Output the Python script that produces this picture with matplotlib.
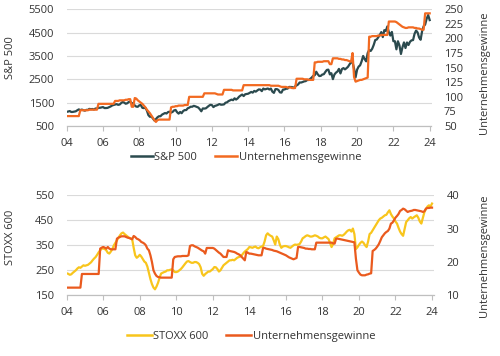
import numpy as np
import matplotlib
matplotlib.use("Agg")
import matplotlib.pyplot as plt
from matplotlib.lines import Line2D

plt.rcParams['font.family'] = ['Open Sans', 'DejaVu Sans']
plt.rcParams['font.size'] = 8

# ---------------- data (monthly, axis years 2004..2024) ----------------
year_ticks = [2004, 2006, 2008, 2010, 2012, 2014, 2016, 2018, 2020, 2022, 2024]
year_labels = ['04', '06', '08', '10', '12', '14', '16', '18', '20', '22', '24']

sp500 = [1107,
    1121, 1141, 1102, 1104, 1115, 1130, 1174, 1212, 1181, 1204, 1181, 1157,
    1192, 1191, 1234, 1220, 1229, 1207, 1249, 1248, 1280, 1281, 1295, 1311,
    1270, 1270, 1277, 1304, 1336, 1378, 1401, 1418, 1438, 1407, 1421, 1482,
    1531, 1503, 1455, 1474, 1527, 1549, 1481, 1468, 1379, 1331, 1323, 1386,
    1400, 1280, 1267, 1283, 1165, 969, 896, 903, 826, 735, 798, 873,
    919, 919, 987, 1021, 1057, 1036, 1096, 1115, 1074, 1104, 1169, 1187,
    1089, 1031, 1102, 1049, 1141, 1183, 1181, 1258, 1286, 1327, 1326, 1364,
    1345, 1321, 1292, 1219, 1131, 1253, 1247, 1258, 1312, 1366, 1408, 1398,
    1310, 1362, 1379, 1407, 1441, 1412, 1416, 1426, 1498, 1515, 1569, 1598,
    1631, 1606, 1686, 1633, 1682, 1757, 1806, 1848, 1783, 1859, 1872, 1884,
    1924, 1960, 1931, 2003, 1972, 2018, 2068, 2059, 1995, 2105, 2068, 2086,
    2107, 2063, 2104, 1972, 1920, 2079, 2080, 2044, 1940, 1932, 2060, 2065,
    2097, 2099, 2174, 2171, 2168, 2126, 2199, 2239, 2279, 2364, 2363, 2384,
    2412, 2423, 2470, 2472, 2519, 2575, 2648, 2674, 2824, 2714, 2641, 2648,
    2705, 2718, 2816, 2902, 2914, 2712, 2760, 2507, 2704, 2784, 2834, 2946,
    2752, 2942, 2980, 2926, 2977, 3038, 3141, 3231, 3226, 2954, 2585, 2912,
    3044, 3100, 3271, 3500, 3363, 3270, 3622, 3756, 3714, 3811, 3973, 4181,
    4204, 4298, 4395, 4523, 4308, 4605, 4567, 4766, 4516, 4374, 4530, 4132,
    4132, 3785, 4130, 3955, 3586, 3872, 4080, 3840, 4077, 3970, 4109, 4169,
    4180, 4450, 4589, 4508, 4288, 4194, 4568, 4770, 4846, 5096, 5254, 5036]

us_earnings = [
    67, 67, 67, 67, 67, 67, 67, 67, 67, 77, 77, 77,
    77, 77, 77, 78, 78, 78, 78, 78, 78, 88, 88, 88,
    88, 88, 88, 88, 88, 88, 88, 88, 93, 93, 93, 94,
    94, 94, 94, 95, 95, 96, 96, 83, 83, 98, 97, 94,
    92, 90, 88, 85, 82, 78, 75, 72, 68, 64, 60, 57,
    60, 61, 61, 61, 61, 61, 61, 61, 61, 82, 83, 83,
    84, 84, 85, 85, 85, 85, 86, 86, 86, 100, 100, 100,
    100, 100, 100, 100, 100, 100, 100, 106, 106, 106, 106, 106,
    106, 106, 106, 105, 104, 104, 104, 104, 112, 112, 112, 112,
    112, 112, 111, 111, 111, 111, 111, 111, 111, 120, 120, 120,
    120, 120, 120, 120, 120, 120, 120, 120, 120, 120, 120, 120,
    120, 120, 120, 119, 119, 119, 119, 119, 119, 118, 117, 117,
    117, 117, 116, 116, 116, 115, 115, 115, 131, 131, 131, 131,
    131, 130, 130, 130, 129, 129, 129, 129, 159, 159, 160, 160,
    160, 160, 161, 161, 161, 161, 156, 156, 166, 166, 166, 166,
    165, 165, 164, 164, 163, 163, 162, 161, 160, 175, 134, 126,
    127, 128, 129, 129, 130, 131, 132, 133, 203, 203, 204, 204,
    204, 204, 205, 205, 206, 206, 206, 206, 206, 229, 229, 229,
    229, 229, 228, 226, 224, 222, 220, 219, 218, 218, 219, 219,
    219, 219, 218, 218, 217, 217, 216, 215, 215, 243, 243, 243,
    243]

stoxx600 = [
    238, 236, 232, 234, 240, 245, 250, 257, 262, 260, 265, 270,
    268, 270, 272, 277, 282, 290, 297, 303, 312, 322, 330, 337,
    337, 335, 330, 320, 317, 325, 335, 350, 360, 370, 380, 390,
    398, 401, 395, 390, 385, 380, 378, 375, 340, 310, 300, 305,
    312, 305, 295, 285, 280, 265, 240, 215, 195, 181, 174, 185,
    200, 220, 237, 240, 243, 245, 250, 250, 252, 254, 250, 243,
    243, 245, 250, 255, 262, 270, 278, 285, 287, 283, 280, 280,
    283, 283, 280, 275, 262, 236, 228, 235, 240, 245, 245, 250,
    255, 263, 262, 255, 245, 250, 260, 270, 275, 280, 285, 290,
    290, 292, 290, 295, 300, 303, 305, 310, 318, 325, 330, 335,
    343, 342, 340, 343, 345, 340, 338, 342, 345, 347, 365, 390,
    398, 392, 388, 385, 370, 353, 385, 375, 353, 340, 345, 347,
    347, 345, 342, 340, 345, 350, 353, 352, 353, 355, 365, 378,
    382, 387, 390, 388, 385, 385, 387, 390, 388, 385, 380, 378,
    378, 382, 385, 380, 375, 360, 343, 355, 378, 382, 386, 390,
    390, 388, 392, 398, 405, 410, 412, 405, 417, 395, 335, 342,
    352, 360, 365, 360, 350, 343, 365, 395, 400, 410, 420, 430,
    440, 450, 457, 460, 465, 470, 472, 482, 490, 475, 465, 457,
    445, 437, 420, 405, 395, 388, 415, 443, 450, 458, 463, 457,
    462, 466, 470, 460, 445, 437, 460, 483, 495, 505, 510, 505,
    517]

eu_earnings = [
    12.3, 12.3, 12.3, 12.3, 12.3, 12.3, 12.3, 12.3, 12.3, 12.3, 16.4, 16.4,
    16.4, 16.4, 16.4, 16.4, 16.4, 16.4, 16.4, 16.4, 16.4, 16.4, 24.0, 24.3,
    24.5, 24.3, 24.0, 24.5, 24.0, 23.8, 23.8, 23.8, 23.8, 27.0, 27.3, 27.5,
    27.7, 27.7, 27.7, 27.5, 27.3, 27.2, 27.0, 26.8, 27.8, 27.5, 27.0, 26.8,
    26.5, 26.0, 25.8, 25.5, 25.0, 24.0, 23.5, 22.0, 20.0, 17.5, 16.5, 15.8,
    15.5, 15.4, 15.3, 15.3, 15.3, 15.3, 15.3, 15.3, 15.3, 15.3, 20.8, 21.5,
    21.6, 21.7, 21.7, 21.7, 21.8, 21.8, 21.8, 21.8, 22.0, 24.8, 25.0, 25.0,
    24.7, 24.5, 24.3, 24.0, 23.7, 23.4, 23.2, 22.5, 24.2, 24.2, 24.2, 24.2,
    24.2, 24.0, 23.6, 23.2, 22.8, 22.5, 22.0, 21.5, 21.5, 21.5, 23.5, 23.3,
    23.2, 23.1, 23.0, 22.8, 22.5, 22.3, 22.0, 21.5, 21.0, 20.5, 23.0, 22.8,
    22.5, 22.5, 22.4, 22.3, 22.2, 22.1, 22.0, 22.0, 22.0, 24.2, 24.2, 24.0,
    23.9, 23.8, 23.7, 23.6, 23.4, 23.3, 23.2, 23.0, 22.8, 22.6, 22.4, 22.2,
    22.0, 21.7, 21.4, 21.2, 21.0, 20.8, 21.0, 21.2, 24.5, 24.5, 24.4, 24.3,
    24.2, 24.0, 24.0, 23.9, 23.9, 23.8, 23.8, 23.8, 25.8, 25.8, 25.8, 25.8,
    25.8, 25.8, 25.8, 25.8, 25.8, 25.8, 25.8, 25.6, 25.5, 27.0, 27.0, 26.9,
    26.8, 26.7, 26.6, 26.5, 26.4, 26.3, 26.2, 26.1, 26.0, 25.9, 21.0, 17.5,
    16.8, 16.2, 16.0, 16.0, 16.0, 16.2, 16.3, 16.5, 16.6, 23.3, 23.6, 24.0,
    24.6, 25.3, 26.3, 27.4, 28.0, 28.6, 29.0, 29.3, 30.0, 31.5, 31.8, 32.5,
    33.3, 33.8, 34.4, 35.3, 35.6, 36.0, 35.8, 35.4, 35.0, 35.2, 35.3, 35.4,
    35.6, 35.6, 35.5, 35.4, 35.3, 35.2, 35.0, 35.2, 36.0, 36.2, 36.2, 36.3,
    36.3]

# ---------------- style ----------------
C_SP = '#2B4A4E'
C_USE = '#F26A21'
C_STX = '#F8C51C'
C_EUE = '#EA5A1E'
GRID = '#DADADA'
TXT = '#333333'

x_us = 2004 + np.arange(len(sp500)) / 12.0
x_eu = 2004 + np.arange(len(stoxx600)) / 12.0

fig = plt.figure(figsize=(5.0, 3.56), dpi=100)


def style(ax, axr):
    for a in (ax, axr):
        for s in ('top', 'left', 'right'):
            a.spines[s].set_visible(False)
        a.spines['bottom'].set_color('#BFBFBF')
        a.spines['bottom'].set_linewidth(0.8)
        a.tick_params(axis='y', length=0, colors=TXT, labelsize=8, pad=9)
    ax.tick_params(axis='x', length=3.5, width=0.8, color='#BFBFBF',
                   labelcolor=TXT, labelsize=8, pad=5)
    ax.grid(axis='y', color=GRID, linewidth=0.8)
    ax.set_axisbelow(True)
    ax.set_xticks(year_ticks)
    ax.set_xticklabels(year_labels)
    ax.set_xlim(2004, 2024.1)


# ---- top panel ----
ax1 = fig.add_axes([0.1334, 0.646, 0.7296, 0.328])
ax1.plot(x_us, sp500, color=C_SP, lw=1.6)
ax1.set_ylim(500, 5500)
ax1.set_yticks(range(500, 5501, 1000))
ax1r = ax1.twinx()
ax1r.plot(x_us, us_earnings, color=C_USE, lw=1.6)
ax1r.set_ylim(50, 250)
ax1r.set_yticks(range(50, 251, 25))
style(ax1, ax1r)
ax1.set_ylabel('S&P 500', color=TXT, fontsize=8)
ax1.yaxis.set_label_coords(-0.138, 0.59)
ax1r.set_ylabel('Unternehmensgewinne', color=TXT, fontsize=8)
ax1r.yaxis.set_label_coords(1.129, 0.46)

fig.legend(handles=[Line2D([], [], color=C_SP, lw=1.8),
                    Line2D([], [], color=C_USE, lw=1.8)],
           labels=['S&P 500', 'Unternehmensgewinne'],
           loc='center', bbox_to_anchor=(0.492, 0.558), ncol=2, frameon=False,
           handlelength=2.0, handletextpad=0.15, columnspacing=1.6,
           fontsize=8, labelcolor=TXT)

# ---- bottom panel ----
ax2 = fig.add_axes([0.1334, 0.1705, 0.7343, 0.2809])
ax2.plot(x_eu, stoxx600, color=C_STX, lw=1.6)
ax2.set_ylim(150, 550)
ax2.set_yticks(range(150, 551, 100))
ax2r = ax2.twinx()
ax2r.plot(x_eu, eu_earnings, color=C_EUE, lw=1.6)
ax2r.set_ylim(10, 40)
ax2r.set_yticks([10, 20, 30, 40])
style(ax2, ax2r)
ax2.set_ylabel('STOXX 600', color=TXT, fontsize=8)
ax2.yaxis.set_label_coords(-0.137, 0.583)
ax2r.set_ylabel('Unternehmensgewinne', color=TXT, fontsize=8)
ax2r.yaxis.set_label_coords(1.122, 0.393)

fig.legend(handles=[Line2D([], [], color=C_STX, lw=1.8),
                    Line2D([], [], color=C_EUE, lw=1.8)],
           labels=['STOXX 600', 'Unternehmensgewinne'],
           loc='center', bbox_to_anchor=(0.502, 0.054), ncol=2, frameon=False,
           handlelength=2.25, handletextpad=0.15, columnspacing=1.6,
           fontsize=8, labelcolor=TXT)

fig.savefig('out.png', dpi=100)
